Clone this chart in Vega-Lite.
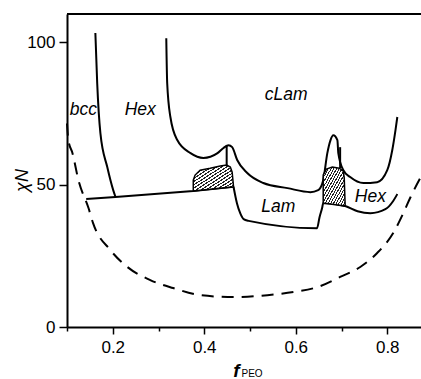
{
  "$schema": "https://vega.github.io/schema/vega-lite/v6.json",
  "width": 358,
  "height": 313,
  "autosize": {"type": "none"},
  "padding": {"left": 67, "top": 14, "right": 0, "bottom": 52},
  "background": "white",
  "config": {
    "view": {"stroke": null},
    "axis": {"grid": false, "domainColor": "black", "domainWidth": 2, "tickColor": "black", "tickWidth": 1.5, "labelColor": "black", "titleColor": "black", "labelFont": "Liberation Sans", "titleFont": "Liberation Sans", "labelFontSize": 17}
  },
  "datasets": {
    "frame": [{"edge": "top", "y": 110}],
    "curves": [
      {"s": "dash", "i": 0, "x": 0.100, "y": 71.5},
      {"s": "dash", "i": 1, "x": 0.103, "y": 65.7},
      {"s": "dash", "i": 2, "x": 0.112, "y": 61.1},
      {"s": "dash", "i": 3, "x": 0.125, "y": 51.6},
      {"s": "dash", "i": 4, "x": 0.147, "y": 41.8},
      {"s": "dash", "i": 5, "x": 0.157, "y": 36.5},
      {"s": "dash", "i": 6, "x": 0.195, "y": 27.0},
      {"s": "dash", "i": 7, "x": 0.232, "y": 21.1},
      {"s": "dash", "i": 8, "x": 0.282, "y": 16.5},
      {"s": "dash", "i": 9, "x": 0.332, "y": 13.7},
      {"s": "dash", "i": 10, "x": 0.391, "y": 11.2},
      {"s": "dash", "i": 11, "x": 0.464, "y": 10.5},
      {"s": "dash", "i": 12, "x": 0.538, "y": 11.2},
      {"s": "dash", "i": 13, "x": 0.595, "y": 12.3},
      {"s": "dash", "i": 14, "x": 0.647, "y": 14.0},
      {"s": "dash", "i": 15, "x": 0.697, "y": 17.6},
      {"s": "dash", "i": 16, "x": 0.741, "y": 21.1},
      {"s": "dash", "i": 17, "x": 0.778, "y": 26.0},
      {"s": "dash", "i": 18, "x": 0.813, "y": 33.0},
      {"s": "dash", "i": 19, "x": 0.835, "y": 40.0},
      {"s": "dash", "i": 20, "x": 0.851, "y": 45.7},
      {"s": "dash", "i": 21, "x": 0.876, "y": 53.5},
      {"s": "bcc", "i": 0, "x": 0.162, "y": 103.3},
      {"s": "bcc", "i": 1, "x": 0.166, "y": 85.7},
      {"s": "bcc", "i": 2, "x": 0.173, "y": 68.1},
      {"s": "bcc", "i": 3, "x": 0.188, "y": 56.2},
      {"s": "bcc", "i": 4, "x": 0.201, "y": 48.1},
      {"s": "bcc", "i": 5, "x": 0.206, "y": 45.7},
      {"s": "clam", "i": 0, "x": 0.317, "y": 101.5},
      {"s": "clam", "i": 1, "x": 0.319, "y": 85.7},
      {"s": "clam", "i": 2, "x": 0.326, "y": 73.8},
      {"s": "clam", "i": 3, "x": 0.341, "y": 65.7},
      {"s": "clam", "i": 4, "x": 0.370, "y": 61.1},
      {"s": "clam", "i": 5, "x": 0.398, "y": 59.4},
      {"s": "clam", "i": 6, "x": 0.429, "y": 61.1},
      {"s": "clam", "i": 7, "x": 0.442, "y": 62.9},
      {"s": "clam", "i": 8, "x": 0.453, "y": 63.9},
      {"s": "clam", "i": 9, "x": 0.461, "y": 63.2},
      {"s": "clam", "i": 10, "x": 0.472, "y": 58.7},
      {"s": "clam", "i": 11, "x": 0.494, "y": 54.1},
      {"s": "clam", "i": 12, "x": 0.529, "y": 50.6},
      {"s": "clam", "i": 13, "x": 0.582, "y": 48.8},
      {"s": "clam", "i": 14, "x": 0.632, "y": 47.4},
      {"s": "clam", "i": 15, "x": 0.649, "y": 48.1},
      {"s": "clam", "i": 16, "x": 0.660, "y": 51.6},
      {"s": "clam", "i": 17, "x": 0.669, "y": 61.1},
      {"s": "clam", "i": 18, "x": 0.676, "y": 65.7},
      {"s": "clam", "i": 19, "x": 0.682, "y": 67.4},
      {"s": "clam", "i": 20, "x": 0.691, "y": 65.7},
      {"s": "clam", "i": 21, "x": 0.693, "y": 61.1},
      {"s": "clam", "i": 22, "x": 0.704, "y": 55.1},
      {"s": "clam", "i": 23, "x": 0.719, "y": 52.7},
      {"s": "clam", "i": 24, "x": 0.748, "y": 50.6},
      {"s": "clam", "i": 25, "x": 0.778, "y": 50.9},
      {"s": "clam", "i": 26, "x": 0.800, "y": 55.1},
      {"s": "clam", "i": 27, "x": 0.811, "y": 62.2},
      {"s": "clam", "i": 28, "x": 0.818, "y": 69.2},
      {"s": "clam", "i": 29, "x": 0.822, "y": 73.8},
      {"s": "lam", "i": 0, "x": 0.464, "y": 49.3},
      {"s": "lam", "i": 1, "x": 0.4716, "y": 43.4},
      {"s": "lam", "i": 2, "x": 0.4788, "y": 39.9},
      {"s": "lam", "i": 3, "x": 0.486, "y": 37.9},
      {"s": "lam", "i": 4, "x": 0.497, "y": 37.3},
      {"s": "lam", "i": 5, "x": 0.6465, "y": 34.7},
      {"s": "lam", "i": 6, "x": 0.652, "y": 38.6},
      {"s": "lam", "i": 7, "x": 0.658, "y": 42.1},
      {"s": "lam", "i": 8, "x": 0.660, "y": 43.6},
      {"s": "lam", "i": 9, "x": 0.708, "y": 42.5},
      {"s": "lam", "i": 10, "x": 0.735, "y": 40.7},
      {"s": "lam", "i": 11, "x": 0.763, "y": 40.0},
      {"s": "lam", "i": 12, "x": 0.796, "y": 41.4},
      {"s": "lam", "i": 13, "x": 0.813, "y": 44.3},
      {"s": "lam", "i": 14, "x": 0.822, "y": 46.7},
      {"s": "low", "i": 0, "x": 0.142, "y": 45.0},
      {"s": "low", "i": 1, "x": 0.206, "y": 45.7},
      {"s": "low", "i": 2, "x": 0.376, "y": 47.8},
      {"s": "low", "i": 3, "x": 0.464, "y": 49.3},
      {"s": "v1", "i": 0, "x": 0.449, "y": 63.9},
      {"s": "v1", "i": 1, "x": 0.449, "y": 56.9},
      {"s": "v2", "i": 0, "x": 0.697, "y": 63.2},
      {"s": "v2", "i": 1, "x": 0.697, "y": 55.8},
      {"s": "h1", "i": 0, "x": 0.376, "y": 47.8},
      {"s": "h1", "i": 1, "x": 0.376, "y": 51.6},
      {"s": "h1", "i": 2, "x": 0.380, "y": 53.4},
      {"s": "h1", "i": 3, "x": 0.391, "y": 55.1},
      {"s": "h1", "i": 4, "x": 0.413, "y": 55.8},
      {"s": "h1", "i": 5, "x": 0.435, "y": 56.6},
      {"s": "h1", "i": 6, "x": 0.449, "y": 56.9},
      {"s": "h1", "i": 7, "x": 0.457, "y": 56.2},
      {"s": "h1", "i": 8, "x": 0.461, "y": 54.4},
      {"s": "h1", "i": 9, "x": 0.464, "y": 49.3},
      {"s": "h1", "i": 10, "x": 0.376, "y": 47.8},
      {"s": "h2", "i": 0, "x": 0.660, "y": 43.6},
      {"s": "h2", "i": 1, "x": 0.660, "y": 53.4},
      {"s": "h2", "i": 2, "x": 0.667, "y": 55.5},
      {"s": "h2", "i": 3, "x": 0.680, "y": 56.2},
      {"s": "h2", "i": 4, "x": 0.695, "y": 55.8},
      {"s": "h2", "i": 5, "x": 0.704, "y": 54.8},
      {"s": "h2", "i": 6, "x": 0.706, "y": 52.3},
      {"s": "h2", "i": 7, "x": 0.708, "y": 42.5},
      {"s": "h2", "i": 8, "x": 0.660, "y": 43.6}
    ],
    "labels": [
      {"t": "bcc", "x": 0.136, "y": 76.2},
      {"t": "Hex", "x": 0.260, "y": 76.2},
      {"t": "cLam", "x": 0.579, "y": 81.5},
      {"t": "Lam", "x": 0.562, "y": 42.3},
      {"t": "Hex", "x": 0.763, "y": 45.7}
    ],
    "sub": [
      {"t": "PEO", "x": 0.5045, "y": -16.5}
    ]
  },
  "encoding": {
    "x": {
      "field": "x", "type": "quantitative",
      "scale": {"domain": [0.1, 0.8825], "nice": false, "zero": false},
      "axis": {
        "values": [0.1, 0.2, 0.3, 0.4, 0.5, 0.6, 0.7, 0.8],
        "labelExpr": "round(datum.value*10)%2==1 ? '' : format(datum.value,'.1f')",
        "tickSize": {"condition": {"test": "round(datum.value*10)%2==1", "value": 4}, "value": 7},
        "labelPadding": 5,
        "labelFlush": false,
        "title": "f",
        "titleFontSize": 19,
        "titleFontStyle": "italic",
        "titleFontWeight": "bold",
        "titleX": 169,
        "titleY": 49,
        "titleBaseline": "alphabetic",
        "titleAlign": "center"
      }
    },
    "y": {
      "field": "y", "type": "quantitative",
      "scale": {"domain": [0, 110], "nice": false},
      "axis": {
        "values": [0, 50, 100],
        "tickSize": 8,
        "labelPadding": 4,
        "title": "χN",
        "titleFontSize": 18,
        "titleFontStyle": "italic",
        "titleFontWeight": "normal",
        "titleX": -45,
        "titleY": 166,
        "titleAlign": "center",
        "titleBaseline": "middle"
      }
    }
  },
  "layer": [
    {
      "data": {"name": "frame"},
      "mark": {"type": "rule", "color": "black", "strokeWidth": 2},
      "encoding": {"x": null}
    },
    {
      "data": {"name": "curves"},
      "transform": [{"filter": "datum.s == 'dash'"}],
      "mark": {"type": "line", "color": "black", "strokeWidth": 2, "strokeDash": [12, 8], "interpolate": "monotone"},
      "encoding": {"order": {"field": "i", "type": "quantitative"}}
    },
    {
      "data": {"name": "curves"},
      "transform": [{"filter": "indexof(['bcc','clam','lam'], datum.s) >= 0"}],
      "mark": {"type": "line", "color": "black", "strokeWidth": 2, "interpolate": "monotone"},
      "encoding": {"detail": {"field": "s"}, "order": {"field": "i", "type": "quantitative"}}
    },
    {
      "data": {"name": "curves"},
      "transform": [{"filter": "indexof(['low','v1','v2'], datum.s) >= 0"}],
      "mark": {"type": "line", "color": "black", "strokeWidth": 2},
      "encoding": {"detail": {"field": "s"}, "order": {"field": "i", "type": "quantitative"}}
    },
    {
      "data": {"name": "curves"},
      "transform": [{"filter": "indexof(['h1','h2'], datum.s) >= 0"}],
      "mark": {
        "type": "line", "stroke": "black", "strokeWidth": 1.5,
        "fill": {"gradient": "linear", "x1": 0, "y1": 0, "x2": 1, "y2": 1, "stops": [
          {"offset": 0, "color": "#222"}, {"offset": 0.025, "color": "#222"}, {"offset": 0.025, "color": "white"}, {"offset": 0.0625, "color": "white"},
          {"offset": 0.0625, "color": "#222"}, {"offset": 0.0875, "color": "#222"}, {"offset": 0.0875, "color": "white"}, {"offset": 0.125, "color": "white"},
          {"offset": 0.125, "color": "#222"}, {"offset": 0.15, "color": "#222"}, {"offset": 0.15, "color": "white"}, {"offset": 0.1875, "color": "white"},
          {"offset": 0.1875, "color": "#222"}, {"offset": 0.2125, "color": "#222"}, {"offset": 0.2125, "color": "white"}, {"offset": 0.25, "color": "white"},
          {"offset": 0.25, "color": "#222"}, {"offset": 0.275, "color": "#222"}, {"offset": 0.275, "color": "white"}, {"offset": 0.3125, "color": "white"},
          {"offset": 0.3125, "color": "#222"}, {"offset": 0.3375, "color": "#222"}, {"offset": 0.3375, "color": "white"}, {"offset": 0.375, "color": "white"},
          {"offset": 0.375, "color": "#222"}, {"offset": 0.4, "color": "#222"}, {"offset": 0.4, "color": "white"}, {"offset": 0.4375, "color": "white"},
          {"offset": 0.4375, "color": "#222"}, {"offset": 0.4625, "color": "#222"}, {"offset": 0.4625, "color": "white"}, {"offset": 0.5, "color": "white"},
          {"offset": 0.5, "color": "#222"}, {"offset": 0.525, "color": "#222"}, {"offset": 0.525, "color": "white"}, {"offset": 0.5625, "color": "white"},
          {"offset": 0.5625, "color": "#222"}, {"offset": 0.5875, "color": "#222"}, {"offset": 0.5875, "color": "white"}, {"offset": 0.625, "color": "white"},
          {"offset": 0.625, "color": "#222"}, {"offset": 0.65, "color": "#222"}, {"offset": 0.65, "color": "white"}, {"offset": 0.6875, "color": "white"},
          {"offset": 0.6875, "color": "#222"}, {"offset": 0.7125, "color": "#222"}, {"offset": 0.7125, "color": "white"}, {"offset": 0.75, "color": "white"},
          {"offset": 0.75, "color": "#222"}, {"offset": 0.775, "color": "#222"}, {"offset": 0.775, "color": "white"}, {"offset": 0.8125, "color": "white"},
          {"offset": 0.8125, "color": "#222"}, {"offset": 0.8375, "color": "#222"}, {"offset": 0.8375, "color": "white"}, {"offset": 0.875, "color": "white"},
          {"offset": 0.875, "color": "#222"}, {"offset": 0.9, "color": "#222"}, {"offset": 0.9, "color": "white"}, {"offset": 0.9375, "color": "white"},
          {"offset": 0.9375, "color": "#222"}, {"offset": 0.9625, "color": "#222"}, {"offset": 0.9625, "color": "white"}, {"offset": 1, "color": "white"}
        ]}
      },
      "encoding": {"detail": {"field": "s"}, "order": {"field": "i", "type": "quantitative"}}
    },
    {
      "data": {"name": "labels"},
      "mark": {"type": "text", "font": "Liberation Sans", "fontSize": 17.5, "fontStyle": "italic", "color": "black", "align": "center", "baseline": "middle"},
      "encoding": {"text": {"field": "t"}}
    },
    {
      "data": {"name": "sub"},
      "mark": {"type": "text", "font": "Liberation Sans", "fontSize": 10, "color": "black", "align": "center", "baseline": "middle"},
      "encoding": {"text": {"field": "t"}}
    }
  ]
}
